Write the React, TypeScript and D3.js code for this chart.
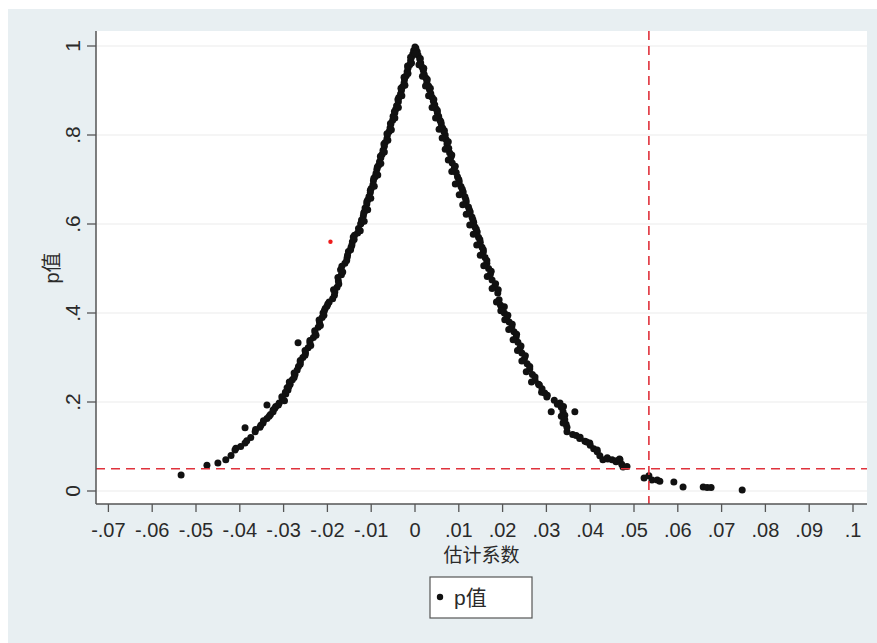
import React from "react";
import * as d3 from "d3";

const xTicks = [-0.07, -0.06, -0.05, -0.04, -0.03, -0.02, -0.01, 0, 0.01, 0.02, 0.03, 0.04, 0.05, 0.06, 0.07, 0.08, 0.09, 0.1];
const xTickLabels = ["-.07", "-.06", "-.05", "-.04", "-.03", "-.02", "-.01", "0", ".01", ".02", ".03", ".04", ".05", ".06", ".07", ".08", ".09", ".1"];
const yTicks = [0, 0.2, 0.4, 0.6, 0.8, 1];
const yTickLabels = ["0", ".2", ".4", ".6", ".8", "1"];

const xLabel = "估计系数";
const yLabel = "p值";
const legendLabel = "p值";

const pThreshold = 0.05;
const coefThreshold = 0.0534;

// [coefficient, p-value]
const leftBranch: [number, number][] = [
  [0.0, 0.998], [-0.0003, 0.99], [-0.0005, 0.982], [-0.0008, 0.975], [-0.001, 0.967], [-0.0012, 0.958],
  [-0.0016, 0.95], [-0.0018, 0.942], [-0.002, 0.933], [-0.0024, 0.925], [-0.0025, 0.917], [-0.0029, 0.908],
  [-0.0031, 0.9], [-0.0033, 0.892], [-0.0037, 0.884], [-0.0038, 0.875], [-0.0042, 0.866], [-0.0044, 0.858],
  [-0.0046, 0.85], [-0.005, 0.842], [-0.0051, 0.833], [-0.0055, 0.825], [-0.0057, 0.816], [-0.0059, 0.808],
  [-0.0063, 0.8], [-0.0064, 0.792], [-0.0068, 0.783], [-0.007, 0.775], [-0.0073, 0.766], [-0.0075, 0.757],
  [-0.0078, 0.749], [-0.0081, 0.74], [-0.0083, 0.732], [-0.0087, 0.723], [-0.0089, 0.714], [-0.0091, 0.706],
  [-0.0095, 0.697], [-0.0096, 0.688], [-0.01, 0.68], [-0.0102, 0.671], [-0.0105, 0.662], [-0.0108, 0.654],
  [-0.011, 0.645], [-0.0114, 0.636], [-0.0116, 0.627], [-0.0118, 0.618], [-0.0122, 0.609], [-0.0124, 0.6],
  [-0.0129, 0.59], [-0.0131, 0.58], [-0.0141, 0.571], [-0.0143, 0.56], [-0.0146, 0.548], [-0.0152, 0.538],
  [-0.0155, 0.525], [-0.016, 0.512], [-0.017, 0.497], [-0.0168, 0.486], [-0.0175, 0.472], [-0.0178, 0.458],
  [-0.0183, 0.447], [-0.0188, 0.432], [-0.0199, 0.42], [-0.0205, 0.41], [-0.021, 0.4], [-0.0212, 0.39],
  [-0.0218, 0.378], [-0.0221, 0.368], [-0.0228, 0.355], [-0.0232, 0.345], [-0.024, 0.333], [-0.0267, 0.333],
  [-0.0244, 0.322], [-0.025, 0.31], [-0.0256, 0.3], [-0.0262, 0.29], [-0.0266, 0.28], [-0.0269, 0.272],
  [-0.0274, 0.262], [-0.028, 0.25], [-0.0285, 0.24], [-0.029, 0.227], [-0.0295, 0.218], [-0.0303, 0.208],
  [-0.031, 0.198], [-0.0318, 0.19], [-0.0324, 0.182], [-0.0338, 0.193], [-0.033, 0.172], [-0.0338, 0.163],
  [-0.0347, 0.153], [-0.0354, 0.143], [-0.0365, 0.133], [-0.0388, 0.142], [-0.0375, 0.12], [-0.0388, 0.108],
  [-0.0398, 0.1], [-0.0411, 0.092], [-0.042, 0.08], [-0.0432, 0.07], [-0.045, 0.063], [-0.0475, 0.058],
  [-0.0534, 0.036],
];

const rightBranch: [number, number][] = [
  [0.0002, 0.995], [0.0005, 0.987], [0.0007, 0.979], [0.0011, 0.97], [0.0013, 0.962], [0.0016, 0.953],
  [0.0019, 0.945], [0.0021, 0.936], [0.0025, 0.928], [0.0027, 0.919], [0.0031, 0.91], [0.0033, 0.902],
  [0.0036, 0.893], [0.0039, 0.885], [0.0042, 0.876], [0.0045, 0.868], [0.0048, 0.859], [0.0051, 0.85],
  [0.0054, 0.842], [0.0057, 0.833], [0.006, 0.825], [0.0063, 0.816], [0.0066, 0.808], [0.0069, 0.8],
  [0.0071, 0.79], [0.0073, 0.78], [0.0077, 0.77], [0.0079, 0.76], [0.0082, 0.75], [0.0085, 0.737],
  [0.009, 0.727], [0.0094, 0.716], [0.0097, 0.706], [0.0101, 0.695], [0.0105, 0.684], [0.011, 0.672],
  [0.0114, 0.661], [0.0117, 0.65], [0.0122, 0.638], [0.0126, 0.627], [0.013, 0.616], [0.0134, 0.604],
  [0.0137, 0.593], [0.0142, 0.582], [0.0145, 0.57], [0.0149, 0.559], [0.0153, 0.548], [0.0156, 0.537],
  [0.016, 0.525], [0.0164, 0.512], [0.0168, 0.5], [0.0172, 0.487], [0.0176, 0.474], [0.0182, 0.46],
  [0.0189, 0.445], [0.0192, 0.43], [0.0195, 0.418], [0.0198, 0.411], [0.0204, 0.4], [0.021, 0.39],
  [0.0215, 0.38], [0.0221, 0.369], [0.0226, 0.358], [0.0231, 0.346], [0.0235, 0.334], [0.024, 0.322],
  [0.0244, 0.31], [0.025, 0.298], [0.0256, 0.286], [0.0262, 0.274], [0.0268, 0.262], [0.0274, 0.249],
  [0.0282, 0.24], [0.029, 0.23], [0.0296, 0.22], [0.0301, 0.211], [0.0318, 0.204], [0.0331, 0.198],
  [0.0334, 0.188], [0.0338, 0.178], [0.0342, 0.17], [0.034, 0.16], [0.0345, 0.15], [0.0311, 0.178],
  [0.0365, 0.178], [0.0347, 0.133], [0.036, 0.127], [0.0377, 0.121], [0.0388, 0.112], [0.04, 0.103],
  [0.0408, 0.095], [0.0416, 0.088], [0.0422, 0.079], [0.0429, 0.07], [0.044, 0.072], [0.045, 0.07],
  [0.046, 0.068], [0.0468, 0.07], [0.0472, 0.06], [0.0475, 0.054],
  [0.0523, 0.029], [0.0534, 0.034], [0.0541, 0.025], [0.0553, 0.025], [0.0559, 0.022], [0.0591, 0.02],
  [0.0612, 0.009], [0.0658, 0.009], [0.0667, 0.008], [0.0676, 0.008], [0.0747, 0.002],
];

const leftOuter: [number, number][] = [
  [-0.001, 0.975], [-0.0017, 0.955], [-0.0025, 0.93], [-0.0032, 0.905], [-0.0039, 0.88], [-0.0047, 0.853],
  [-0.0056, 0.826], [-0.0064, 0.803], [-0.0071, 0.78], [-0.0079, 0.752], [-0.0086, 0.728], [-0.0094, 0.703],
  [-0.0102, 0.676], [-0.011, 0.65], [-0.0117, 0.624], [-0.0123, 0.602], [-0.0138, 0.575], [-0.0144, 0.553],
  [-0.0154, 0.53], [-0.0167, 0.505], [-0.0176, 0.48], [-0.0186, 0.452], [-0.0196, 0.425], [-0.0207, 0.405],
  [-0.0219, 0.384], [-0.0229, 0.36], [-0.024, 0.338], [-0.0251, 0.316], [-0.0262, 0.293], [-0.0276, 0.265],
  [-0.0287, 0.245], [-0.0292, 0.232], [-0.0296, 0.222], [-0.0304, 0.212], [-0.032, 0.186], [-0.0324, 0.178],
  [-0.0346, 0.158], [-0.0364, 0.138], [-0.0384, 0.113], [-0.0409, 0.096],
];

const leftInner: [number, number][] = [
  [-0.0001, 0.985], [-0.0008, 0.962], [-0.0016, 0.938], [-0.0023, 0.912], [-0.003, 0.888], [-0.0038, 0.862],
  [-0.0046, 0.838], [-0.0054, 0.812], [-0.0062, 0.788], [-0.007, 0.762], [-0.0078, 0.736], [-0.0085, 0.71],
  [-0.0093, 0.685], [-0.0101, 0.658], [-0.0108, 0.632], [-0.0116, 0.606], [-0.0125, 0.585], [-0.0139, 0.565],
  [-0.0147, 0.542], [-0.0156, 0.518], [-0.0165, 0.492], [-0.0174, 0.465], [-0.0184, 0.44], [-0.0201, 0.415],
  [-0.0208, 0.395], [-0.0216, 0.372], [-0.0226, 0.35], [-0.0238, 0.327], [-0.0251, 0.305], [-0.0262, 0.285],
  [-0.0276, 0.255], [-0.0288, 0.235], [-0.0298, 0.203], [-0.0312, 0.193], [-0.0333, 0.168], [-0.0352, 0.148],
];

const rightOuter: [number, number][] = [
  [0.0012, 0.972], [0.002, 0.95], [0.0028, 0.925], [0.0035, 0.905], [0.0043, 0.88], [0.0051, 0.855],
  [0.0059, 0.83], [0.0067, 0.81], [0.0076, 0.785], [0.0084, 0.755], [0.0092, 0.73], [0.01, 0.7],
  [0.0108, 0.678], [0.0116, 0.655], [0.0124, 0.632], [0.0132, 0.61], [0.014, 0.588], [0.0148, 0.565],
  [0.0156, 0.542], [0.0164, 0.518], [0.0174, 0.494], [0.0184, 0.466], [0.019, 0.452], [0.0204, 0.414],
  [0.0212, 0.395], [0.0222, 0.375], [0.0232, 0.352], [0.0242, 0.326], [0.0252, 0.304], [0.0262, 0.28],
  [0.0274, 0.256], [0.0284, 0.238], [0.0302, 0.215], [0.0339, 0.19], [0.0342, 0.16], [0.0347, 0.143],
  [0.0376, 0.118], [0.0399, 0.108], [0.0416, 0.092], [0.0439, 0.075], [0.0459, 0.066], [0.0467, 0.072],
  [0.0484, 0.055],
];

const rightInner: [number, number][] = [
  [0.0001, 0.983], [0.0009, 0.958], [0.0017, 0.932], [0.0024, 0.91], [0.0031, 0.888], [0.0039, 0.862],
  [0.0047, 0.838], [0.0055, 0.813], [0.0062, 0.793], [0.0069, 0.768], [0.0076, 0.744], [0.0084, 0.718],
  [0.0092, 0.69], [0.0101, 0.666], [0.0109, 0.643], [0.0117, 0.622], [0.0125, 0.598], [0.0133, 0.577],
  [0.0141, 0.553], [0.0149, 0.53], [0.0157, 0.506], [0.0165, 0.482], [0.0176, 0.455], [0.0186, 0.425],
  [0.0196, 0.405], [0.0205, 0.385], [0.0214, 0.363], [0.0224, 0.34], [0.0234, 0.316], [0.0244, 0.292],
  [0.0254, 0.268], [0.0266, 0.245], [0.0289, 0.222], [0.0325, 0.195], [0.0334, 0.168], [0.0338, 0.153],
  [0.0368, 0.125], [0.0392, 0.11],
];

const highlightPoint: [number, number] = [-0.0193, 0.56];

const W = 877;
const H = 643;
const plot = { left: 96, right: 867, top: 31, bottom: 504 };

export default function App() {
  const x = d3.scaleLinear().domain([-0.07, 0.1]).range([108.4, 853]);
  const y = d3.scaleLinear().domain([0, 1]).range([491, 46]);
  const allPoints = [...leftBranch, ...leftOuter, ...leftInner, ...rightBranch, ...rightOuter, ...rightInner];
  const latin = "'Liberation Sans', Arial, sans-serif";
  const cjk = "'Liberation Sans', 'Noto Sans CJK SC', sans-serif";
  const axisColor = "#555";
  const red = "#e0323c";
  const textColor = "#2a2a2a";

  return (
    <svg width={W} height={H} style={{ position: "absolute", left: 0, top: 0 }}>
      <rect x={8} y={9} width={W - 8} height={H - 9} fill="#e8eff2" />
      <rect x={plot.left} y={plot.top} width={plot.right - plot.left} height={plot.bottom - plot.top} fill="#ffffff" />
      {yTicks.map((t) => (
        <line key={"g" + t} x1={plot.left} x2={plot.right} y1={y(t)} y2={y(t)} stroke="#ececec" strokeWidth={1.2} />
      ))}
      {allPoints.map((d, i) => (
        <circle key={i} cx={x(d[0])} cy={y(d[1])} r={3.5} fill="#111" />
      ))}
      <circle cx={x(highlightPoint[0])} cy={y(highlightPoint[1])} r={2.2} fill="#ee1c1c" />
      <line x1={plot.left} x2={plot.right} y1={y(pThreshold)} y2={y(pThreshold)} stroke={red} strokeWidth={1.6} strokeDasharray="9 6" />
      <line x1={x(coefThreshold)} x2={x(coefThreshold)} y1={plot.top} y2={plot.bottom} stroke={red} strokeWidth={1.6} strokeDasharray="9 6" />
      <line x1={plot.left} x2={plot.left} y1={plot.top} y2={plot.bottom} stroke={axisColor} strokeWidth={1.5} />
      <line x1={plot.left} x2={plot.right} y1={plot.bottom} y2={plot.bottom} stroke={axisColor} strokeWidth={1.5} />
      {yTicks.map((t, i) => (
        <g key={"yt" + t}>
          <line x1={plot.left - 9} x2={plot.left} y1={y(t)} y2={y(t)} stroke={axisColor} strokeWidth={1.3} />
          <text
            transform={`translate(80,${y(t)}) rotate(-90)`}
            textAnchor="middle"
            fontFamily={latin}
            fontSize={21}
            fill={textColor}
          >
            {yTickLabels[i]}
          </text>
        </g>
      ))}
      {xTicks.map((t, i) => (
        <g key={"xt" + t}>
          <line x1={x(t)} x2={x(t)} y1={plot.bottom} y2={plot.bottom + 8} stroke={axisColor} strokeWidth={1.3} />
          <text x={x(t)} y={537} textAnchor="middle" fontFamily={latin} fontSize={20} fill={textColor}>
            {xTickLabels[i]}
          </text>
        </g>
      ))}
      <text x={(plot.left + plot.right) / 2} y={562} textAnchor="middle" fontFamily={cjk} fontSize={19} fill={textColor}>
        {xLabel}
      </text>
      <text transform={`translate(59,268) rotate(-90)`} textAnchor="middle" fontFamily={cjk} fontSize={20} fill={textColor}>
        {yLabel}
      </text>
      <rect x={430} y={577} width={102} height={41} fill="#fff" stroke="#555" strokeWidth={1.2} />
      <circle cx={440} cy={597} r={3.2} fill="#111" />
      <text x={454} y={605} fontFamily={cjk} fontSize={21} fill={textColor}>
        {legendLabel}
      </text>
    </svg>
  );
}
